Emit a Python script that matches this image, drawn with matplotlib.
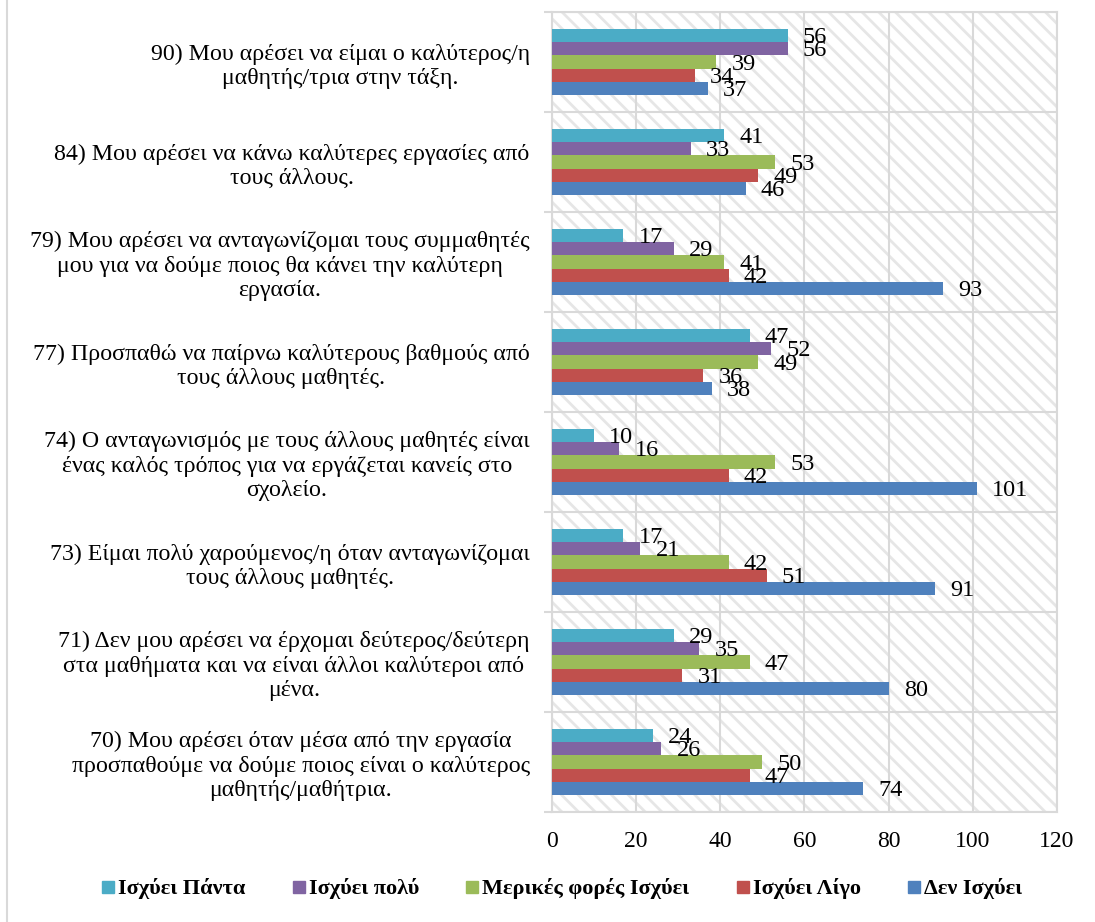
import matplotlib
matplotlib.use("Agg")
import matplotlib.pyplot as plt
import numpy as np
from matplotlib.lines import Line2D
from matplotlib.patches import Rectangle

plt.rcParams["font.family"] = ["Liberation Serif", "DejaVu Serif"]
plt.rcParams["hatch.linewidth"] = 2.0

questions = [
    "70) Μου αρέσει όταν μέσα από την εργασία\nπροσπαθούμε να δούμε ποιος είναι ο καλύτερος\nμαθητής/μαθήτρια.",
    "71) Δεν μου αρέσει να έρχομαι δεύτερος/δεύτερη\nστα μαθήματα και να είναι άλλοι καλύτεροι από\nμένα.",
    "73) Είμαι πολύ χαρούμενος/η όταν ανταγωνίζομαι\nτους άλλους μαθητές.",
    "74) Ο ανταγωνισμός με τους άλλους μαθητές είναι\nένας καλός τρόπος για να εργάζεται κανείς στο\nσχολείο.",
    "77) Προσπαθώ να παίρνω καλύτερους βαθμούς από\nτους άλλους μαθητές.",
    "79) Μου αρέσει να ανταγωνίζομαι τους συμμαθητές\nμου για να δούμε ποιος θα κάνει την καλύτερη\nεργασία.",
    "84) Μου αρέσει να κάνω καλύτερες εργασίες από\nτους άλλους.",
    "90) Μου αρέσει να είμαι ο καλύτερος/η\nμαθητής/τρια στην τάξη.",
]

series_names = ["Ισχύει Πάντα", "Ισχύει πολύ", "Μερικές φορές Ισχύει", "Ισχύει Λίγο", "Δεν Ισχύει"]
colors = ["#4BACC6", "#8064A2", "#9BBB59", "#C0504D", "#4F81BD"]

always = [24, 29, 17, 10, 47, 17, 41, 56]
much = [26, 35, 21, 16, 52, 29, 33, 56]
sometimes = [50, 47, 42, 53, 49, 41, 53, 39]
little = [47, 31, 51, 42, 36, 42, 49, 34]
never = [74, 80, 91, 101, 38, 93, 46, 37]
values = [always, much, sometimes, little, never]

fig = plt.figure(figsize=(10.95, 9.22), dpi=100)
ax = fig.add_axes([0.504, 0.1193, 0.4613, 0.8677])

grid_c = "#D9D9D9"
n = len(questions)
y = np.arange(n)
bh = 0.132

for i, (name, vals, c) in enumerate(zip(series_names, values, colors)):
    # first series sits on top inside each group
    pos = y + (2 - i) * bh
    bars = ax.barh(pos, vals, height=bh, color=c, label=name, zorder=3)
    for b, v in zip(bars, vals):
        ax.annotate(str(v), (v, b.get_y() + bh / 2), xytext=(11, -1.5),
                    textcoords="offset points", ha="left", va="center",
                    fontsize=17.5, zorder=4)

# striped plot background
ax.add_patch(Rectangle((0, 0), 1, 1, transform=ax.transAxes, facecolor="white",
                       edgecolor="#E6E6E6", hatch="\\\\", lw=0, zorder=0))

ax.set_xlim(0, 120)
ax.set_ylim(-0.5, n - 0.5)
ax.set_xticks(np.arange(0, 121, 20))
ax.set_yticks(y)
ax.set_yticklabels(questions, multialignment="center", linespacing=1.22)
ax.set_yticks(np.arange(-0.5, n, 1), minor=True)
ax.tick_params(axis="y", which="major", length=0, pad=16, labelsize=17.2)
ax.tick_params(axis="y", which="minor", length=6, width=1.5, color=grid_c)
ax.tick_params(axis="x", length=0, pad=14, labelsize=17)
ax.grid(axis="x", color=grid_c, lw=1.5, zorder=1)
ax.grid(axis="y", which="minor", color=grid_c, lw=1.5, zorder=1)
for s in ax.spines.values():
    s.set_color(grid_c)
    s.set_linewidth(1.5)
    s.set_zorder(2)

handles = [Line2D([], [], marker="s", ls="", color=c, markersize=8) for c in colors]
fig.legend(handles, series_names, loc="center", bbox_to_anchor=(0.512, 0.036), ncol=5,
           frameon=False, prop={"weight": "bold", "size": 16},
           handletextpad=0.05, columnspacing=2.0, handlelength=0.8)

fig.add_artist(Line2D([7 / 1095, 7 / 1095], [0, 1], color=grid_c, lw=1.5))

fig.savefig("out.png", dpi=100)
